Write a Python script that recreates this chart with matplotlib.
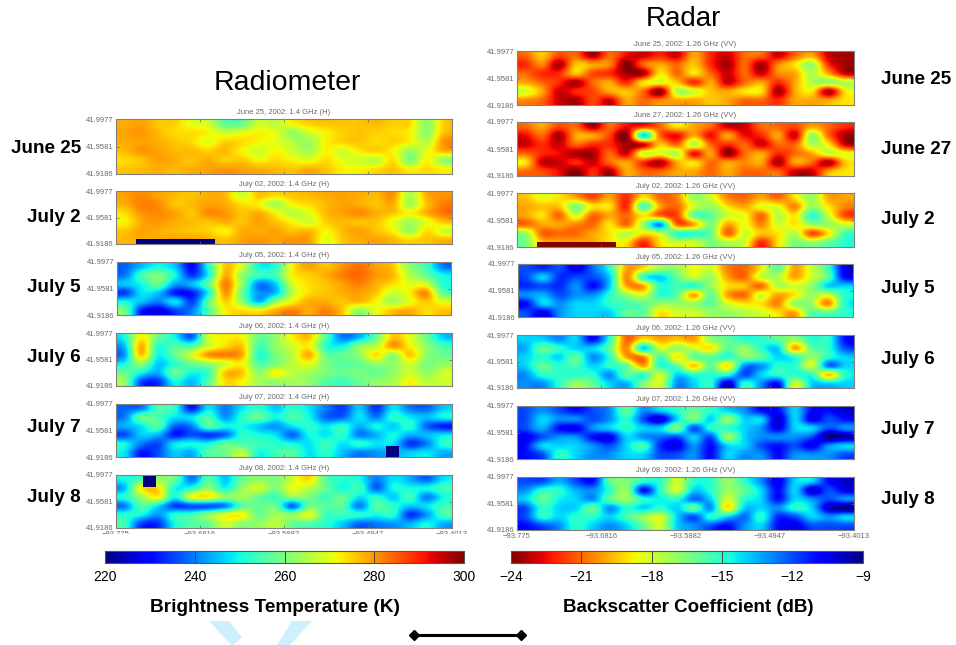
import matplotlib
matplotlib.use("Agg")
import matplotlib.pyplot as plt
from matplotlib.patches import Polygon, Rectangle
from matplotlib.lines import Line2D
from matplotlib.transforms import Bbox
from matplotlib.cm import ScalarMappable
from matplotlib.colors import Normalize
import numpy as np

W, H = 956, 645
plt.rcParams['font.family'] = ['Liberation Sans', 'DejaVu Sans']

LON = [-93.775, -93.6816, -93.5882, -93.4947, -93.4013]
LAT = [41.9186, 41.9581, 41.9977]

R_JUN25 = [
 [278,279,276,275,270,268,257,258,268,266,272,275,276,276,276,277,275,274,262,275],
 [279,280,277,274,274,272,268,270,272,270,262,268,272,275,276,275,274,272,262,276],
 [278,279,278,276,274,270,275,274,272,270,266,263,272,275,276,274,275,272,266,280],
 [277,280,279,277,277,275,277,272,268,272,268,264,272,268,273,275,272,263,270,277],
 [274,276,279,278,276,278,275,276,272,274,272,270,274,270,268,266,274,260,272,262],
 [276,277,278,277,278,279,280,279,278,277,276,278,276,272,272,274,276,272,274,272]]
R_JUL02 = [
 [279,281,279,277,276,278,277,268,276,274,276,277,278,279,278,277,280,265,278,280],
 [278,282,281,276,277,279,278,274,272,264,272,274,277,279,278,276,278,264,276,282],
 [274,280,281,279,276,281,280,276,278,272,266,270,277,279,281,278,276,272,278,283],
 [272,278,280,278,277,276,278,276,279,276,272,268,275,277,276,276,270,264,270,276],
 [276,279,278,277,276,275,272,278,278,279,276,277,272,277,279,276,272,263,274,268],
 [277,278,278,279,279,278,276,279,280,279,280,279,270,276,278,279,277,274,276,277]]
R_JUL05 = [
 [238,245,250,245,230,252,276,268,250,252,272,279,276,280,283,279,276,262,255,240],
 [240,255,260,250,234,250,278,262,254,255,272,275,278,282,284,280,277,266,258,250],
 [246,250,258,243,245,258,282,262,240,246,268,274,276,279,282,278,274,270,268,252],
 [235,248,245,232,232,250,280,258,242,245,266,274,276,278,279,276,268,272,281,258],
 [250,245,240,248,235,258,275,262,245,262,272,278,278,276,277,272,264,270,276,270],
 [258,232,228,235,240,256,272,274,272,278,282,278,282,276,262,270,276,278,274,276]]
R_JUL06 = [
 [250,272,258,250,238,268,272,272,258,262,272,276,256,240,245,258,276,270,258,246],
 [245,278,252,256,256,268,274,276,255,262,268,272,252,250,262,266,280,272,262,255],
 [242,276,250,258,268,280,282,278,252,260,266,278,258,258,262,274,262,276,262,258],
 [250,262,246,252,258,262,268,272,256,260,266,270,260,256,258,262,262,268,260,262],
 [258,250,244,258,250,254,276,276,262,272,266,264,260,258,260,258,262,268,262,268],
 [262,236,234,250,245,256,274,272,264,262,264,262,256,254,258,262,264,272,266,268]]
R_JUL07 = [
 [238,240,255,252,232,248,240,248,252,246,252,248,240,235,246,234,248,240,238,246],
 [240,258,255,248,248,255,242,252,258,250,255,250,238,238,248,240,252,248,245,250],
 [244,248,256,238,240,256,250,250,246,242,248,252,248,252,244,250,246,252,238,232],
 [236,246,244,232,236,234,238,252,250,248,238,250,248,252,240,244,250,244,245,248],
 [250,240,236,248,250,250,258,255,254,252,250,248,254,248,252,248,248,234,240,252],
 [248,232,236,246,244,256,258,266,250,254,256,248,252,245,240,242,244,246,248,244]]
R_JUL08 = [
 [250,255,262,258,240,256,246,258,262,260,268,274,256,252,250,240,248,244,238,248],
 [245,272,274,250,252,262,250,262,268,260,270,266,258,250,254,238,250,250,250,254],
 [252,262,272,250,270,272,262,264,258,254,262,260,254,258,248,252,246,254,240,250],
 [240,256,248,235,236,236,240,256,258,258,238,258,256,256,240,256,252,246,248,254],
 [252,250,242,252,254,262,270,272,258,264,262,270,254,254,252,250,252,234,242,255],
 [254,235,234,250,256,258,268,262,262,266,258,256,252,246,238,240,242,244,250,244]]

S_JUN25 = [
 [-21,-19.5,-21.5,-21,-23.5,-21,-22.5,-23,-22,-23,-20,-22,-23,-21,-21,-23,-21,-20,-23,-23.5],
 [-22,-20.5,-23.5,-19.5,-20,-20.5,-24,-21,-20,-21,-19.5,-22,-23.5,-21,-23.5,-20.5,-19,-17,-22,-23.5],
 [-21,-22,-22,-19.5,-21.5,-22,-23.5,-23.5,-19,-21,-19,-21,-23,-21,-23,-20.5,-20,-17.5,-20,-23],
 [-20,-21,-22,-23.5,-21,-20,-22,-19,-18.5,-19.5,-22,-20,-23,-21,-20,-22,-20,-17.5,-17,-17.5],
 [-18,-20,-23,-22,-21.5,-20,-19.5,-21,-24,-17.5,-18,-19.5,-20,-19,-19,-23.5,-20,-19,-23.5,-19],
 [-20.5,-21,-23,-23.5,-21.5,-23,-20,-21,-20.5,-20,-20,-19.5,-20,-21,-21,-22,-20,-20,-20,-19]]
S_JUN27 = [
 [-21,-20,-21.5,-21,-23.5,-21,-22.5,-22,-21,-19,-20,-21,-23,-23,-21,-21,-21.5,-20,-21,-22],
 [-22.5,-21,-23.5,-20,-20,-21.5,-24,-14,-21,-22.5,-20,-22.5,-20,-22.5,-22,-20,-23,-17,-21,-23.5],
 [-23,-22,-23,-21,-22,-22,-23.5,-23,-19.5,-21,-17.5,-21,-22,-21,-23,-21,-21,-17.5,-19,-23],
 [-21,-22,-22.5,-23.5,-23.5,-21,-23,-18,-18.5,-17.5,-22.5,-20,-24,-21,-20,-22,-21,-20,-18,-18.5],
 [-19,-23,-23,-22,-23,-21,-20,-22,-23.5,-20,-19,-21,-20,-20.5,-20,-23.5,-20,-21,-23.5,-19.5],
 [-21,-21.5,-22.5,-24,-22,-23.5,-20,-21,-21,-20,-20,-21,-20,-21,-21,-21,-23,-23,-20,-19]]
S_JUL02 = [
 [-19.5,-18.5,-19,-20,-21.5,-20,-22,-19,-21,-20.5,-17,-18,-20.5,-21,-20,-21,-19,-17,-20,-20],
 [-20,-19.5,-19.5,-16.5,-19,-19,-22,-15.5,-20,-21,-18,-17,-19,-20,-18.5,-18.5,-20.5,-17,-19,-20.5],
 [-20,-19,-21,-18,-21,-20,-21,-19,-21,-21.5,-16,-16,-18,-18.5,-21,-17.5,-19,-15,-18,-21.5],
 [-21,-20,-20,-20.5,-21,-19,-21,-17,-13,-21,-20,-16.5,-20,-18.5,-20.5,-18,-19,-17,-17,-18],
 [-17,-21,-21,-21,-20,-19,-17.5,-19,-18,-15,-15,-16,-21,-18,-19.5,-19,-17.5,-21.5,-19,-15.5],
 [-16.5,-19.5,-20,-20,-20,-19,-19,-22,-19,-18,-18,-16.5,-17.5,-18,-22,-19,-16.5,-17,-16,-15]]
S_JUL05 = [
 [-12,-11.5,-12,-10.5,-12.5,-15,-20,-19,-17,-17,-18.5,-18,-20.5,-21,-19,-16,-20,-18,-15.5,-10.5],
 [-12,-14,-11.5,-12,-12,-14,-20.5,-15,-14,-16,-18,-17,-20,-21,-18,-17.5,-20,-18,-16,-11],
 [-11.5,-12,-11.5,-13,-11,-14,-20,-20,-15,-15.5,-15,-17,-19,-19.5,-21,-17.5,-18,-17,-14,-14],
 [-13,-13.5,-12,-13,-13,-15,-17,-18,-15,-16,-20,-16,-20,-21,-18,-20,-19,-17,-18,-15],
 [-11,-14,-13,-14,-14,-15,-15.5,-16,-17,-17,-17,-16,-18,-19,-19,-20.5,-17,-17,-20.5,-15],
 [-12,-10.5,-13,-14,-14,-14,-16,-16,-19,-18,-18,-17,-17,-17.5,-18,-19,-20,-16,-16,-15]]
S_JUL06 = [
 [-14,-14,-13,-14,-11,-15,-21,-19,-20,-19.5,-20,-17,-16,-15,-15,-16,-17,-15,-15,-11],
 [-13.5,-16,-15,-14,-14,-16,-20.5,-14,-18,-17,-18,-19,-16,-17,-15,-14,-20,-16,-15,-12],
 [-14,-15,-14,-16,-13,-15,-20,-20.5,-15.5,-19,-16,-16,-15,-16.5,-16,-14,-15,-17,-15,-14],
 [-14,-16,-15,-15.5,-14,-15,-16,-20,-15,-16,-19.5,-16,-19,-13,-13,-15,-15,-18,-12.5,-14],
 [-13,-15,-15,-15,-15,-13,-16,-15,-18,-14,-15,-15,-15,-12,-14,-15,-15,-15,-19.5,-15],
 [-13,-13,-15,-17,-16,-14,-13.5,-16.5,-18,-13,-14,-15,-10,-15,-13,-11,-18,-14,-14,-14]]
S_JUL07 = [
 [-12,-13,-12,-11,-12,-13,-16,-13,-14,-15,-16,-15,-14,-13,-11,-11,-14,-11,-11,-10],
 [-12,-14,-13,-13,-12,-13,-15,-12,-10,-14,-16.5,-14,-17,-14,-14,-10,-14,-10.5,-12,-11],
 [-12,-13.5,-11,-10.5,-13,-14,-15,-14,-14,-16.5,-12,-15,-15,-14,-13,-10.5,-14,-14,-12,-13],
 [-10.5,-12,-13,-13,-11,-10.5,-14,-13,-12.5,-12,-14,-12,-17,-14,-13,-13,-13,-12,-9,-9.5],
 [-11,-14,-14,-14,-13,-12,-14,-15.5,-11.5,-10.5,-13,-11,-14,-14,-12,-11,-12,-10.5,-13,-14],
 [-11,-12,-15,-14,-13,-13,-14,-14,-12,-12,-13,-11,-14,-13,-13,-11,-13,-13,-13,-12]]
S_JUL08 = [
 [-12,-12,-13.5,-12,-11,-16,-16.5,-15,-15,-18,-15,-15,-17,-15,-13,-10.5,-14,-14,-11,-10],
 [-13,-15,-15,-13.5,-13,-15,-17,-11,-15,-18,-14,-15,-17,-16,-14,-11,-14,-10,-12,-10.5],
 [-14,-16,-14.5,-14,-13,-16,-17,-15,-14.5,-15,-12.5,-14,-18,-15,-14,-11,-14,-13,-12,-13],
 [-12,-15,-14,-14,-16,-13,-15,-14,-15,-14,-16,-13,-19,-14,-14,-13,-15,-14,-10,-9],
 [-12,-15,-14,-15,-15,-14,-15.5,-17,-18,-14,-12,-15,-14,-12.5,-15,-11.5,-12,-14,-13,-14],
 [-11,-12,-13,-15,-14,-13,-14,-16,-18,-14,-13,-12,-11,-13,-14,-11,-10.5,-12,-12,-12]]

LEFT_TITLES = ["June 25, 2002: 1.4 GHz (H)", "July 02, 2002: 1.4 GHz (H)", "July 05, 2002: 1.4 GHz (H)",
               "July 06, 2002: 1.4 GHz (H)", "July 07, 2002: 1.4 GHz (H)", "July 08, 2002: 1.4 GHz (H)"]
RIGHT_TITLES = ["June 25, 2002: 1.26 GHz (VV)", "June 27, 2002: 1.26 GHz (VV)", "July 02, 2002: 1.26 GHz (VV)",
                "July 05, 2002: 1.26 GHz (VV)", "July 06, 2002: 1.26 GHz (VV)", "July 07, 2002: 1.26 GHz (VV)",
                "July 08, 2002: 1.26 GHz (VV)"]
LEFT_DATES = ["June 25", "July 2", "July 5", "July 6", "July 7", "July 8"]
RIGHT_DATES = ["June 25", "June 27", "July 2", "July 5", "July 6", "July 7", "July 8"]
LEFT_GRIDS = [R_JUN25, R_JUL02, R_JUL05, R_JUL06, R_JUL07, R_JUL08]
RIGHT_GRIDS = [S_JUN25, S_JUN27, S_JUL02, S_JUL05, S_JUL06, S_JUL07, S_JUL08]

# data gaps: panel index -> (lon0, lon1, lat0, lat1)
LEFT_GAPS = {1: (-93.7528, -93.665, 41.9186, 41.9259),
             4: (-93.4748, -93.4603, 41.9186, 41.9347),
             5: (-93.745, -93.7305, 41.9801, 41.9977)}
RIGHT_GAPS = {2: (-93.7528, -93.665, 41.9186, 41.9259)}

LEFT_BOXES = [(116, 452, 119, 174), (116, 452, 191, 244), (117, 451, 262, 315),
              (116, 452, 333, 386), (116, 452, 404, 457), (116, 452, 475, 528)]
RIGHT_BOXES = [(517, 854, 51, 105), (517, 854, 122, 176), (517, 854, 193, 247),
               (518, 853, 264, 317), (517, 854, 335, 388), (517, 854, 406, 459), (517, 854, 477, 530)]
LEFT_LABEL_Y = [147, 217, 287, 356, 427, 497]
RIGHT_LABEL_Y = [78, 148, 218, 288, 358, 428, 498]

fig = plt.figure(figsize=(W / 100, H / 100), dpi=100, facecolor='white')
GRAY = '#6a6a6a'


def px_axes(x0, x1, y0, y1):
    return fig.add_axes([x0 / W, 1 - y1 / H, (x1 - x0) / W, (y1 - y0) / H])


def panel(grid, box, title, cmap, vmin, vmax, bottom, gap, gap_value):
    ax = px_axes(*box)
    ax.imshow(np.array(grid, float), cmap=cmap, vmin=vmin, vmax=vmax, aspect='auto',
              interpolation='catrom', origin='upper',
              extent=[LON[0], LON[-1], LAT[0], LAT[-1]])
    if gap:
        ax.add_patch(Rectangle((gap[0], gap[2]), gap[1] - gap[0], gap[3] - gap[2],
                               color=plt.get_cmap(cmap)(Normalize(vmin, vmax)(gap_value)), lw=0))
    ax.set_xticks(LON)
    ax.set_yticks(LAT)
    ax.set_yticklabels(['41.9186', '41.9581', '41.9977'])
    ax.set_xticklabels(['\u221293.775', '\u221293.6816', '\u221293.5882', '\u221293.4947', '\u221293.4013'] if bottom else [])
    ax.tick_params(direction='in', length=2, width=0.5, color=GRAY, labelcolor=GRAY,
                   labelsize=5.5, top=True, right=True, pad=2)
    for s in ax.spines.values():
        s.set_color('#808080')
        s.set_linewidth(0.8)
    ax.set_title(title, fontsize=5.5, color=GRAY, pad=3.5)
    return ax


for i, (g, b, t) in enumerate(zip(LEFT_GRIDS, LEFT_BOXES, LEFT_TITLES)):
    ax = panel(g, b, t, 'jet', 220, 300, i == 5, LEFT_GAPS.get(i), 220)
    if i == 5:
        for lab in ax.get_xticklabels():
            lab.set_clip_box(Bbox([[0, H - 534], [W, H]]))
            lab.set_clip_on(True)
for i, (g, b, t) in enumerate(zip(RIGHT_GRIDS, RIGHT_BOXES, RIGHT_TITLES)):
    panel(g, b, t, 'jet_r', -24, -9, i == 6, RIGHT_GAPS.get(i), -24)


def ftext(x, y, s, **kw):
    fig.text(x / W, 1 - y / H, s, **kw)


ftext(287, 83, "Radiometer", fontsize=20.5, ha='center', va='center', color='black')
ftext(683, 19, "Radar", fontsize=20, ha='center', va='center', color='black')
for lab, y in zip(LEFT_DATES, LEFT_LABEL_Y):
    ftext(81, y + 1, lab, fontsize=13.6, fontweight='bold', ha='right', va='center')
for lab, y in zip(RIGHT_DATES, RIGHT_LABEL_Y):
    ftext(881, y + 1, lab, fontsize=13.6, fontweight='bold', ha='left', va='center')


def cbar(box, cmap, vmin, vmax, ticks, labels, label, lx, lsize):
    cax = px_axes(*box)
    cb = fig.colorbar(ScalarMappable(Normalize(vmin, vmax), cmap), cax=cax, orientation='horizontal', ticks=ticks)
    cb.set_ticklabels(labels)
    cb.outline.set_edgecolor('#555555')
    cb.outline.set_linewidth(0.8)
    cax.tick_params(direction='in', length=8.6, width=0.7, color='#444444', pad=5, labelsize=10)
    ftext(lx, 607, label, fontsize=lsize, fontweight='bold', ha='center', va='center')


cbar((105, 464, 551, 563), 'jet', 220, 300, [220, 240, 260, 280, 300],
     ['220', '240', '260', '280', '300'], "Brightness Temperature (K)", 275.5, 13.7)
cbar((511, 863, 551, 563), 'jet_r', -24, -9, [-24, -21, -18, -15, -12, -9],
     ['\u221224', '\u221221', '\u221218', '\u221215', '\u221212', '\u22129'], "Backscatter Coefficient (dB)", 688, 13.5)

# decoration along the bottom edge of the slide
LOGO_LEFT = [(209, 621), (229, 621), (242, 637), (234, 645), (231, 645)]
LOGO_RIGHT = [(292, 621), (312, 621), (290, 645), (277, 645)]
for pts in (LOGO_LEFT, LOGO_RIGHT):
    fig.add_artist(Polygon([(x / W, 1 - y / H) for x, y in pts], closed=True, transform=fig.transFigure,
                           facecolor='#d0effc', edgecolor='none'))
fig.add_artist(Line2D([414 / W, 521 / W], [1 - 635 / H, 1 - 635 / H], transform=fig.transFigure,
                      color='black', lw=2.2, marker='D', markersize=5.6))

plt.savefig('out.png', dpi=100)
